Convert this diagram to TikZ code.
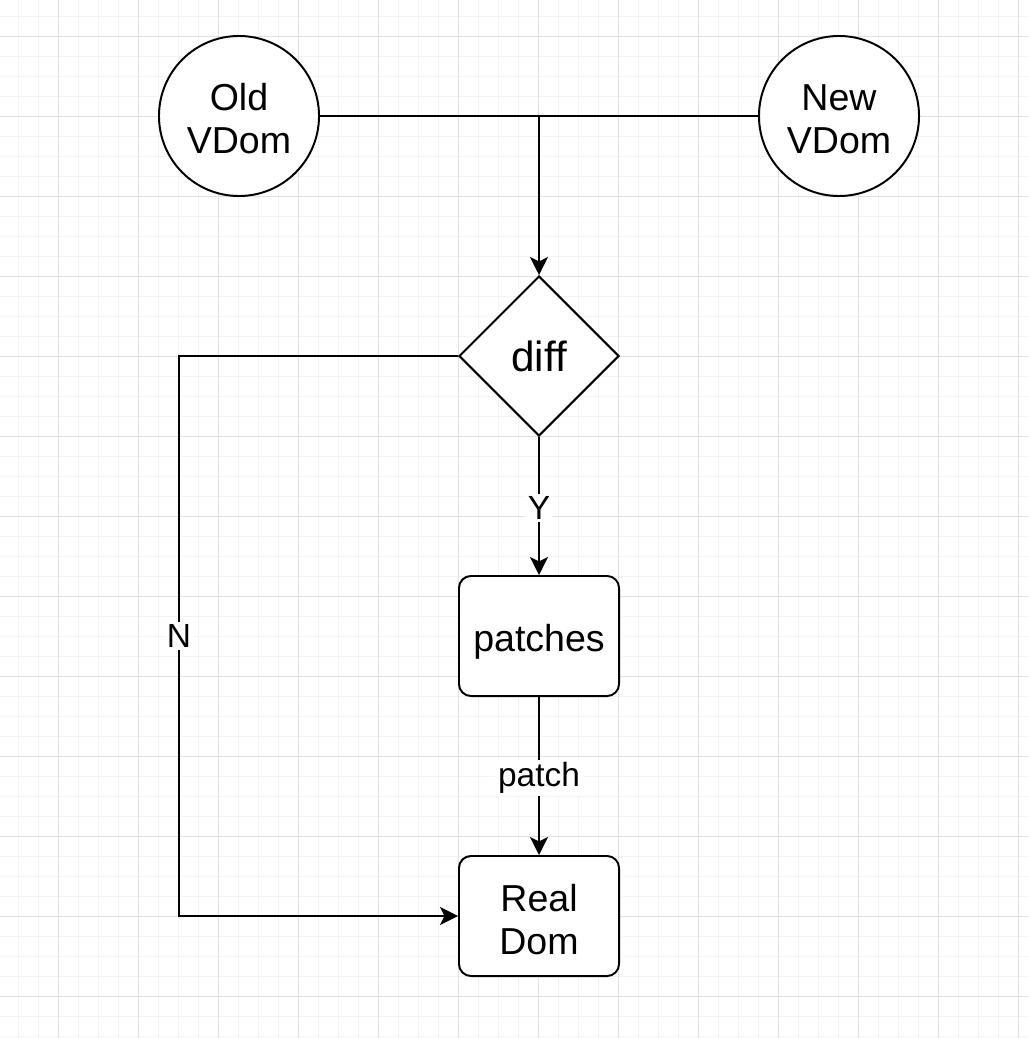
\documentclass[tikz,border=0pt]{standalone}
\usepackage{fontspec}
\setmainfont{Liberation Sans}
\usetikzlibrary{shapes.geometric, arrows.meta}

\definecolor{gridminor}{HTML}{F3F3F3}
\definecolor{gridmajor}{HTML}{E0E0E0}

% text set a little lower in its shape, without changing the shape
\newcommand{\lowtext}[2][0.1cm]{\raisebox{-#1}[\height][\depth]{\begin{tabular}{@{}c@{}}#2\end{tabular}}}

\tikzset{
  vdom/.style={draw, circle, line width=1.4pt, fill=white, minimum size=4cm, inner sep=0pt, font=\fontsize{26.7}{30.5}\selectfont},
  decision/.style={draw, diamond, line width=1.4pt, fill=white, minimum width=4cm, minimum height=4cm, inner sep=0pt, font=\fontsize{30}{34}\selectfont},
  stepbox/.style={draw, rectangle, rounded corners=0.3cm, line width=1.4pt, fill=white, minimum width=4cm, minimum height=3cm, font=\fontsize{26.7}{30.5}\selectfont},
  flow/.style={line width=1.4pt, -{Stealth[length=0.45cm, width=0.45cm, inset=0.11cm]}},
  link/.style={line width=1.4pt},
  lbl/.style={fill=white, inner sep=2pt, font=\fontsize{23.8}{27}\selectfont}
}

\begin{document}
\begin{tikzpicture}[x=0.025cm, y=-0.025cm]
  \useasboundingbox (0,0) rectangle (1028,1038);
  % background grid
  \fill[white] (0,0) rectangle (1028,1038);
  \foreach \x in {18,38,...,1018} \draw[gridminor, line width=0.7pt] (\x,0) -- (\x,1038);
  \foreach \y in {16,36,...,1036} \draw[gridminor, line width=0.7pt] (0,\y) -- (1028,\y);
  \foreach \x in {58,138,...,1018} \draw[gridmajor, line width=0.7pt] (\x,0) -- (\x,1038);
  \foreach \y in {36,116,...,1036} \draw[gridmajor, line width=0.7pt] (0,\y) -- (1028,\y);

  % nodes
  \node[vdom] (old) at (239,116) {\lowtext[0.18cm]{Old\\VDom}};
  \node[vdom] (new) at (839,116) {\lowtext[0.18cm]{New\\VDom}};
  \node[decision] (diff) at (539,356) {diff};
  \node[stepbox] (patches) at (539,636) {\lowtext[0.17cm]{patches}};
  \node[stepbox] (real) at (539,916) {\lowtext[0.22cm]{Real\\Dom}};
  \coordinate (join) at (539,116);
  \coordinate (nturn) at (179,916);

  % connectors
  \draw[link] (old) -- (new);
  \draw[flow] (join) -- (diff.north);
  \draw[flow] (diff.south) -- node[lbl, yshift=-0.05cm] {Y} (patches.north);
  \draw[flow] (patches.south) -- node[lbl, yshift=-0.05cm] {patch} (real.north);
  \draw[flow] (diff.west) -| node[lbl, pos=0.75] {N} (nturn) -- (real.west);
\end{tikzpicture}
\end{document}
